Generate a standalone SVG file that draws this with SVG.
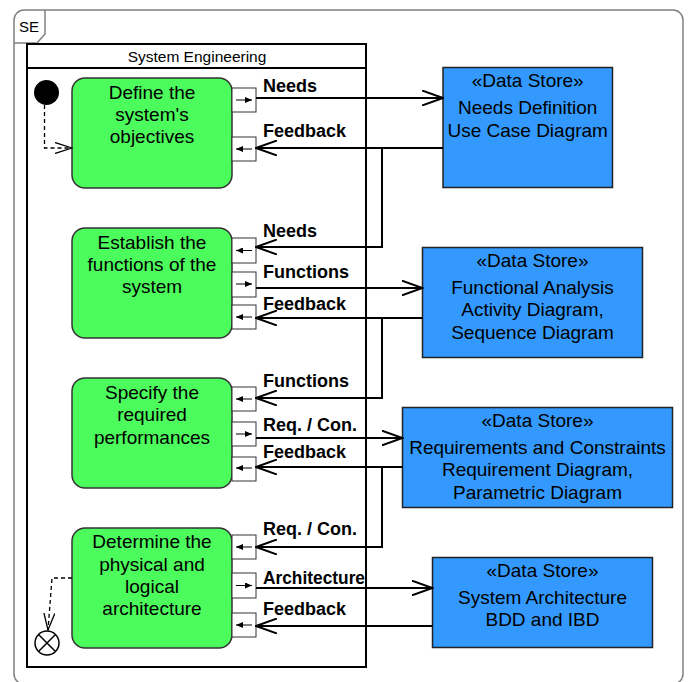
<svg xmlns="http://www.w3.org/2000/svg" width="688" height="682" viewBox="0 0 688 682">
<defs>
<style>
.frame{fill:#fff;stroke:#808080;stroke-width:1.5}
.part{fill:none;stroke:#000;stroke-width:2}
.act{fill:#4cfb5c;stroke:#333;stroke-width:1.5}
.store{fill:#3399ff;stroke:#222;stroke-width:1.5}
.pin{fill:#fff;stroke:#333;stroke-width:1}
.pa{stroke:#000;stroke-width:1;fill:none}
.flow{stroke:#000;stroke-width:2;fill:none}
.ctl{stroke:#000;stroke-width:1.3;fill:none;stroke-dasharray:4 3}
.t{font-family:"Liberation Sans",Arial,sans-serif;fill:#000}
.n{font-size:19px;text-anchor:middle}
.lb{font-size:18px;font-weight:bold}
</style>
<marker id="open" viewBox="0 0 22 16" refX="21" refY="8" markerWidth="22" markerHeight="16" markerUnits="userSpaceOnUse" orient="auto">
<path d="M0,0.5 L21,8 L0,15.5" fill="none" stroke="#000" stroke-width="2"/>
</marker>
<marker id="openS" viewBox="0 0 18 12" refX="17" refY="6" markerWidth="18" markerHeight="12" markerUnits="userSpaceOnUse" orient="auto">
<path d="M0,0.5 L17,6 L0,11.5" fill="none" stroke="#000" stroke-width="1.3"/>
</marker>
<marker id="fill" viewBox="0 0 7 6" refX="7" refY="3" markerWidth="7" markerHeight="6" markerUnits="userSpaceOnUse" orient="auto">
<path d="M0,0 L7,3 L0,6 Z" fill="#000"/>
</marker>
</defs>

<g id="frame">
<rect class="frame" x="14" y="10" width="669" height="674" rx="10"/>
<path d="M14,43 L37,43 L45,34 L45,10" fill="none" stroke="#808080" stroke-width="1.5"/>
<text class="t" x="19" y="32" font-size="15px">SE</text>
</g>

<g id="partition">
<rect class="part" x="27" y="44" width="339" height="623"/>
<line x1="27" y1="68" x2="366" y2="68" stroke="#000" stroke-width="2"/>
<text class="t" x="197" y="62" font-size="15.5px" text-anchor="middle">System Engineering</text>
</g>

<g id="initial">
<circle cx="46.5" cy="92.5" r="12.5" fill="#000"/>
</g>
<g id="final">
<circle cx="47" cy="643" r="12" fill="#fff" stroke="#000" stroke-width="1.5"/>
<path d="M38.5,634.5 L55.5,651.5 M55.5,634.5 L38.5,651.5" stroke="#000" stroke-width="1.5"/>
</g>

<g id="node1">
<rect class="act" x="72" y="78" width="160" height="110" rx="13"/>
<text class="t n" x="152" y="98.5">Define the</text>
<text class="t n" x="152" y="120.8">system's</text>
<text class="t n" x="152" y="143">objectives</text>
<rect class="pin" x="232" y="88" width="24" height="24"/>
<line class="pa" x1="236" y1="100" x2="252" y2="100" marker-end="url(#fill)"/>
<rect class="pin" x="232" y="137" width="24" height="24"/>
<line class="pa" x1="252" y1="149" x2="236" y2="149" marker-end="url(#fill)"/>
</g>

<g id="node2">
<rect class="act" x="72" y="228" width="160" height="110" rx="13"/>
<text class="t n" x="152" y="248.5">Establish the</text>
<text class="t n" x="152" y="270.8">functions of the</text>
<text class="t n" x="152" y="293">system</text>
<rect class="pin" x="232" y="238" width="24" height="25"/>
<line class="pa" x1="252" y1="250.5" x2="236" y2="250.5" marker-end="url(#fill)"/>
<rect class="pin" x="232" y="272" width="24" height="25"/>
<line class="pa" x1="236" y1="284" x2="252" y2="284" marker-end="url(#fill)"/>
<rect class="pin" x="232" y="305" width="24" height="24"/>
<line class="pa" x1="252" y1="317" x2="236" y2="317" marker-end="url(#fill)"/>
</g>

<g id="node3">
<rect class="act" x="72" y="378" width="160" height="110" rx="13"/>
<text class="t n" x="152" y="399">Specify the</text>
<text class="t n" x="152" y="421.3">required</text>
<text class="t n" x="152" y="443.6">performances</text>
<rect class="pin" x="232" y="387" width="24" height="24"/>
<line class="pa" x1="252" y1="399" x2="236" y2="399" marker-end="url(#fill)"/>
<rect class="pin" x="232" y="422" width="24" height="24"/>
<line class="pa" x1="236" y1="434" x2="252" y2="434" marker-end="url(#fill)"/>
<rect class="pin" x="232" y="457" width="24" height="24"/>
<line class="pa" x1="252" y1="468" x2="236" y2="468" marker-end="url(#fill)"/>
</g>

<g id="node4">
<rect class="act" x="72" y="528" width="160" height="120" rx="13"/>
<text class="t n" x="152" y="548.3">Determine the</text>
<text class="t n" x="152" y="570.5">physical and</text>
<text class="t n" x="152" y="592.7">logical</text>
<text class="t n" x="152" y="615">architecture</text>
<rect class="pin" x="232" y="535" width="24" height="24"/>
<line class="pa" x1="252" y1="547" x2="236" y2="547" marker-end="url(#fill)"/>
<rect class="pin" x="232" y="573" width="24" height="25"/>
<line class="pa" x1="236" y1="585.5" x2="252" y2="585.5" marker-end="url(#fill)"/>
<rect class="pin" x="232" y="613" width="24" height="24"/>
<line class="pa" x1="252" y1="625" x2="236" y2="625" marker-end="url(#fill)"/>
</g>

<g id="store1">
<rect class="store" x="443" y="67.5" width="169.5" height="120"/>
<text class="t n" x="527.7" y="87">«Data Store»</text>
<text class="t n" x="527.7" y="114">Needs Definition</text>
<text class="t n" x="527.7" y="136.5">Use Case Diagram</text>
</g>
<g id="store2">
<rect class="store" x="422.5" y="247.5" width="220" height="110"/>
<text class="t n" x="532.5" y="267">«Data Store»</text>
<text class="t n" x="532.5" y="293.5">Functional Analysis</text>
<text class="t n" x="532.5" y="316">Activity Diagram,</text>
<text class="t n" x="532.5" y="339.3">Sequence Diagram</text>
</g>
<g id="store3">
<rect class="store" x="402.5" y="407.5" width="270" height="100"/>
<text class="t n" x="537.5" y="427">«Data Store»</text>
<text class="t n" x="537.5" y="453.5">Requirements and Constraints</text>
<text class="t n" x="537.5" y="476">Requirement Diagram,</text>
<text class="t n" x="537.5" y="499.3">Parametric Diagram</text>
</g>
<g id="store4">
<rect class="store" x="432.5" y="557.5" width="220" height="90"/>
<text class="t n" x="542.5" y="577">«Data Store»</text>
<text class="t n" x="542.5" y="603.5">System Architecture</text>
<text class="t n" x="542.5" y="626">BDD and IBD</text>
</g>

<g id="connectors">
<path class="ctl" d="M44.5,105 L44.5,148 L72,148" marker-end="url(#openS)"/>
<path class="ctl" d="M72,578 L52,578 L48,630" marker-end="url(#openS)"/>

<line class="flow" x1="256" y1="98" x2="443" y2="98" marker-end="url(#open)"/>
<line class="flow" x1="443" y1="148" x2="256" y2="148" marker-end="url(#open)"/>
<path class="flow" d="M382,148 L382,247 L256,247" marker-end="url(#open)"/>
<line class="flow" x1="256" y1="288" x2="422.5" y2="288" marker-end="url(#open)"/>
<line class="flow" x1="422.5" y1="318" x2="256" y2="318" marker-end="url(#open)"/>
<path class="flow" d="M382,318 L382,398 L256,398" marker-end="url(#open)"/>
<line class="flow" x1="256" y1="438" x2="402.5" y2="438" marker-end="url(#open)"/>
<line class="flow" x1="402.5" y1="467" x2="256" y2="467" marker-end="url(#open)"/>
<path class="flow" d="M382,467 L382,547 L256,547" marker-end="url(#open)"/>
<line class="flow" x1="256" y1="588" x2="432.5" y2="588" marker-end="url(#open)"/>
<line class="flow" x1="432.5" y1="626" x2="256" y2="626" marker-end="url(#open)"/>

<text class="t lb" x="263" y="92">Needs</text>
<text class="t lb" x="263" y="137">Feedback</text>
<text class="t lb" x="263" y="237">Needs</text>
<text class="t lb" x="263" y="277.5">Functions</text>
<text class="t lb" x="263" y="309.5">Feedback</text>
<text class="t lb" x="263" y="387">Functions</text>
<text class="t lb" x="263" y="431">Req. / Con.</text>
<text class="t lb" x="263" y="457.5">Feedback</text>
<text class="t lb" x="263" y="535">Req. / Con.</text>
<text class="t lb" x="263" y="583.5" textLength="102" lengthAdjust="spacingAndGlyphs">Architecture</text>
<text class="t lb" x="263" y="614.5">Feedback</text>
</g>
</svg>
